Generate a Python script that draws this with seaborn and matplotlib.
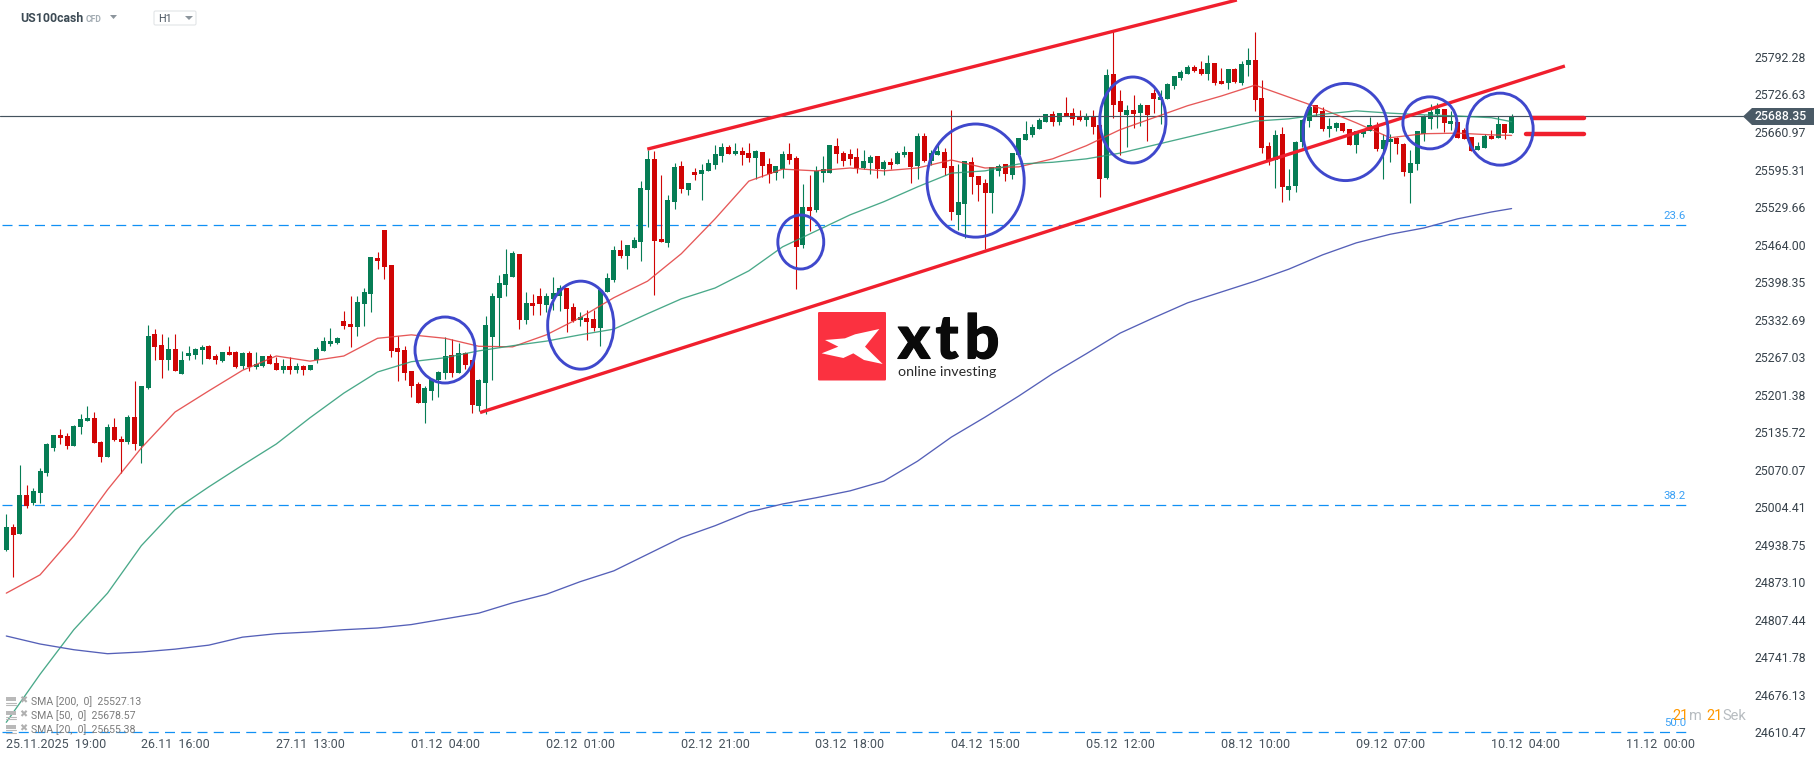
import matplotlib
matplotlib.use("Agg")
import matplotlib.pyplot as plt
import matplotlib.patheffects as pe
from matplotlib.patches import Ellipse, FancyBboxPatch, Polygon, Rectangle
import numpy as np
import pandas as pd
import seaborn as sns

opens = [24930,24970,24958,25026,25012,25029,25064,25108,25131,25129,
         25112,25145,25155,25161,25119,25092,25145,25124,25119,25162,
         25112,25213,25307,25288,25262,25281,25237,25269,25271,25279,
         25286,25269,25260,25276,25276,25251,25274,25250,25251,25269,
         25257,25244,25251,25244,25251,25244,25262,25278,25290,25292,
         25330,25325,25320,25360,25377,25440,25489,25428,25283,25279,
         25243,25220,25187,25208,25227,25239,25271,25239,25274,25262,
         25182,25222,25302,25371,25393,25407,25448,25332,25362,25374,
         25358,25369,25374,25388,25355,25332,25336,25334,25318,25381,
         25402,25455,25444,25458,25469,25560,25614,25474,25467,25539,
         25602,25560,25591,25588,25593,25603,25619,25635,25623,25628,
         25624,25616,25626,25605,25589,25596,25623,25616,25463,25530,
         25524,25589,25589,25637,25624,25623,25617,25598,25607,25619,
         25596,25609,25605,25621,25626,25602,25654,25610,25621,25626,
         25602,25516,25535,25609,25584,25572,25554,25593,25605,25586,
         25621,25647,25656,25666,25679,25693,25679,25694,25694,25687,
         25682,25687,25673,25581,25763,25715,25691,25700,25694,25708,
         25729,25717,25719,25741,25755,25763,25775,25771,25763,25782,
         25750,25747,25771,25747,25778,25787,25721,25637,25612,25658,
         25560,25567,25644,25680,25708,25698,25666,25668,25677,25666,
         25638,25658,25663,25672,25631,25644,25650,25640,25589,25605,
         25658,25684,25693,25701,25675,25679,25664,25652,25630,25633,
         25654,25650,25675,25659]
highs = [24992,24975,25078,25043,25038,25073,25117,25131,25141,25134,
         25148,25168,25182,25171,25120,25150,25161,25129,25166,25225,
         25216,25323,25316,25307,25302,25307,25278,25286,25283,25288,
         25288,25272,25276,25286,25278,25276,25278,25276,25269,25272,
         25267,25264,25267,25257,25253,25253,25285,25302,25318,25302,
         25348,25374,25374,25388,25442,25451,25489,25428,25304,25286,
         25243,25224,25216,25229,25243,25302,25299,25292,25276,25262,
         25229,25339,25379,25411,25456,25453,25448,25381,25377,25388,
         25379,25407,25393,25388,25362,25346,25350,25350,25385,25414,
         25462,25472,25463,25477,25575,25630,25628,25586,25551,25607,
         25610,25572,25598,25605,25614,25638,25642,25638,25642,25635,
         25642,25630,25626,25616,25602,25628,25642,25619,25570,25586,
         25602,25619,25638,25650,25628,25631,25633,25630,25621,25619,
         25612,25616,25628,25636,25626,25659,25659,25630,25642,25633,
         25700,25605,25610,25617,25584,25579,25600,25605,25605,25624,
         25650,25680,25675,25686,25693,25698,25694,25722,25703,25700,
         25694,25700,25673,25771,25840,25735,25708,25726,25712,25708,
         25736,25735,25747,25759,25769,25778,25778,25785,25796,25782,
         25773,25771,25773,25785,25808,25836,25752,25644,25665,25670,
         25596,25645,25684,25705,25708,25705,25686,25679,25677,25666,
         25663,25666,25687,25679,25658,25658,25652,25642,25630,25663,
         25691,25710,25712,25701,25698,25679,25668,25652,25644,25658,
         25664,25689,25675,25692]
lows = [24928,24882,24958,25003,25008,25012,25059,25103,25115,25106,
        25112,25133,25155,25117,25084,25092,25120,25064,25115,25104,
        25082,25211,25262,25230,25244,25243,25237,25262,25264,25255,
        25264,25255,25258,25271,25248,25246,25243,25246,25250,25255,
        25244,25239,25237,25239,25236,25244,25257,25278,25286,25290,
        25316,25285,25304,25321,25346,25421,25404,25267,25225,25227,
        25197,25187,25152,25192,25197,25229,25232,25239,25246,25169,
        25173,25168,25227,25285,25374,25407,25316,25325,25341,25341,
        25346,25350,25348,25311,25329,25321,25297,25313,25286,25381,
        25399,25440,25421,25458,25435,25495,25376,25469,25460,25526,
        25554,25551,25577,25542,25593,25596,25609,25623,25621,25603,
        25609,25579,25582,25572,25577,25581,25605,25386,25458,25488,
        25521,25574,25589,25607,25602,25603,25589,25596,25588,25581,
        25586,25596,25605,25617,25572,25579,25609,25603,25621,25586,
        25507,25489,25476,25553,25540,25456,25519,25584,25575,25579,
        25621,25647,25652,25666,25679,25672,25673,25689,25673,25680,
        25672,25658,25547,25579,25686,25621,25635,25668,25672,25645,
        25694,25675,25719,25736,25752,25763,25766,25761,25752,25743,
        25745,25736,25747,25743,25759,25698,25624,25603,25563,25539,
        25542,25556,25635,25670,25689,25663,25652,25663,25661,25638,
        25624,25652,25663,25628,25579,25609,25623,25584,25537,25595,
        25645,25666,25668,25661,25664,25650,25649,25628,25630,25633,
        25649,25650,25649,25659]
closes = [24970,24956,25026,25007,25033,25068,25115,25131,25126,25112,
          25147,25159,25161,25117,25092,25145,25122,25119,25162,25115,
          25216,25304,25285,25262,25281,25243,25262,25274,25281,25285,
          25264,25262,25276,25271,25250,25274,25250,25255,25269,25255,
          25244,25251,25244,25251,25244,25253,25281,25295,25295,25300,
          25321,25320,25363,25381,25442,25435,25425,25278,25276,25239,
          25216,25187,25213,25229,25241,25269,25239,25274,25253,25183,
          25227,25323,25374,25397,25413,25449,25332,25362,25357,25360,
          25374,25379,25388,25351,25330,25337,25329,25318,25385,25406,
          25455,25444,25463,25472,25563,25614,25470,25469,25542,25600,
          25561,25572,25586,25595,25607,25623,25635,25623,25628,25621,
          25616,25628,25602,25588,25602,25623,25612,25460,25530,25523,
          25593,25596,25638,25623,25610,25614,25598,25610,25617,25596,
          25609,25603,25624,25626,25600,25654,25610,25624,25628,25598,
          25521,25539,25610,25582,25568,25554,25600,25602,25588,25624,
          25650,25658,25670,25682,25693,25679,25694,25689,25684,25682,
          25687,25670,25579,25761,25708,25696,25700,25693,25708,25691,
          25719,25722,25745,25759,25766,25775,25768,25763,25782,25747,
          25745,25771,25749,25780,25787,25717,25633,25612,25656,25565,
          25567,25644,25682,25705,25694,25666,25672,25677,25663,25638,
          25663,25663,25673,25631,25647,25649,25640,25591,25607,25663,
          25689,25696,25701,25677,25680,25650,25649,25628,25637,25654,
          25649,25675,25659,25688]

# moving averages, read every 5th bar
sma_bars = list(range(0, 221, 5)) + [223]
sma20 = [24854,24886,24954,25035,25108,25171,25208,25244,25269,25260,
         25269,25300,25306,25300,25286,25285,25306,25336,25371,25400,
         25448,25509,25575,25596,25593,25598,25593,25598,25612,25598,
         25600,25614,25637,25665,25686,25707,25724,25743,25722,25701,
         25677,25651,25658,25659,25656,25655]
sma50 = [24628,24712,24790,24854,24937,25000,25040,25078,25115,25161,
         25204,25241,25259,25266,25278,25287,25295,25306,25316,25343,
         25369,25388,25418,25460,25488,25516,25539,25565,25589,25593,
         25605,25608,25614,25624,25638,25652,25666,25680,25684,25692,
         25698,25694,25691,25689,25686,25679]
sma200 = [24779,24765,24755,24748,24751,24756,24763,24777,24783,24786,
          24790,24793,24799,24809,24819,24837,24852,24874,24893,24922,
          24951,24972,24996,25010,25021,25033,25050,25085,25127,25162,
          25199,25238,25273,25309,25336,25362,25381,25400,25421,25446,
          25467,25482,25493,25509,25521,25527]

price_ticks = [25792.28,25726.63,25660.97,25595.31,25529.66,25464.00,25398.35,
               25332.69,25267.03,25201.38,25135.72,25070.07,25004.41,24938.75,
               24873.10,24807.44,24741.78,24676.13,24610.47]
time_bars = [0,25,45,65,85,105,125,145,165,185,205,225,245]
time_labels = ["25.11.2025  19:00","26.11  16:00","27.11  13:00","01.12  04:00",
               "02.12  01:00","02.12  21:00","03.12  18:00","04.12  15:00",
               "05.12  12:00","08.12  10:00","09.12  07:00","10.12  04:00",
               "11.12  00:00"]
last_price = 25688.35
fib_levels = [25498, 25008, 24611]
fib_names = ["23.6", "38.2", "50.0"]

# drawn annotations: (bar, price, bars wide, price tall)
circles = [(65.0,25279.5,8.9,115.5),(85.1,25323,9.8,154),(117.7,25468.5,6.8,94.5),
           (143.6,25576,14.4,198),(166.9,25682,9.8,150.5),(198.4,25661,12.6,170),
           (210.9,25677,8,91),(221.3,25666,9.8,126)]
channel_upper = ([94.96,182.3],[25631,25892])
channel_lower = ([70.18,230.9],[25170,25776.5])
stub_lines = [([226.1,233.7],[25685,25685]),([225.2,233.7],[25657,25657])]

GREEN = "#067d55"
RED = "#d00505"
SLATE = "#44535e"
FIB = "#1090f5"

sns.set_style("white")
plt.rcParams["font.family"] = ["Roboto", "DejaVu Sans"]

W, H = 1815, 761
fig = plt.figure(figsize=(W/100, H/100), dpi=100, facecolor="white")
ax = fig.add_axes([0, 1-736/H, 1735/W, 736/H])
ax.set_xlim(-0.933, 256.1)
ax.set_ylim(24604, 25892)
sns.despine(ax=ax, left=True, bottom=True, right=True, top=True)

candles = pd.DataFrame({"open": opens, "high": highs, "low": lows, "close": closes})
candles["bar"] = np.arange(len(candles))
candles["colour"] = np.where(candles["close"] >= candles["open"], GREEN, RED)

ax.vlines(candles["bar"], candles["low"], candles["high"], colors=candles["colour"], lw=0.8, zorder=2)
ax.bar(candles["bar"], (candles["close"]-candles["open"]).abs(),
       bottom=candles[["open", "close"]].min(axis=1), width=0.74,
       color=candles["colour"], linewidth=0, zorder=3)

# fibonacci levels + last price
for level, name in zip(fib_levels, fib_names):
    ax.plot([-0.64, 249.7], [level, level], color=FIB, lw=0.9, dashes=(8, 5), zorder=1)
    ax.text(247.2, level+16, name, color="#3aa0f5", fontsize=8.2, ha="center", va="center", zorder=6)
ax.plot([-0.933, 257.4], [last_price, last_price], color=SLATE, lw=0.85, clip_on=False, zorder=4)

ma = pd.DataFrame({"bar": sma_bars, "sma20": sma20, "sma50": sma50, "sma200": sma200})
sns.lineplot(data=ma, x="bar", y="sma20", ax=ax, color="#e23b3b", lw=0.95, alpha=0.85, zorder=5)
sns.lineplot(data=ma, x="bar", y="sma50", ax=ax, color="#2a9a75", lw=0.95, alpha=0.85, zorder=5)
sns.lineplot(data=ma, x="bar", y="sma200", ax=ax, color="#5560b8", lw=0.95, zorder=5)

for xs, ys in (channel_upper, channel_lower):
    ax.plot(xs, ys, color="#f01f2d", lw=2.4, solid_capstyle="butt", zorder=7)
for xs, ys in stub_lines:
    ax.plot(xs, ys, color="#f01f2d", lw=3.2, solid_capstyle="round", zorder=7)
for bar, price, w, h in circles:
    ax.add_patch(Ellipse((bar, price), w, h, fill=False, edgecolor="#3f48cc", lw=2.1, zorder=8))

ax.yaxis.tick_right()
ax.set_yticks(price_ticks, [f"{p:.2f}" for p in price_ticks])
ax.set_xticks(time_bars, time_labels)
ax.tick_params(axis="y", length=0, pad=14.4, labelsize=8.8, labelcolor="#37424b")
ax.tick_params(axis="x", length=0, pad=1.5, labelsize=9, labelcolor="#47525c")
ax.get_xticklabels()[0].set_ha("left")
ax.set_xlabel("")
ax.set_ylabel("")
ax.patch.set_alpha(0)

# overlay in pixels: header, legend, timer, price tag, logo
ov = fig.add_axes([0, 0, 1, 1], facecolor="none")
ov.set_xlim(0, W)
ov.set_ylim(H, 0)
ov.axis("off")

ov.text(20, 18, "US100cash", fontsize=8.8, fontweight="bold", color="#3c4a54", va="center")
ov.text(86, 19, "CFD", fontsize=6.2, fontweight="bold", color="#a3acb3", va="center")
ov.add_patch(Polygon([(110,15),(117,15),(113.5,19)], color="#8c959c", lw=0))
ov.add_patch(FancyBboxPatch((154,11), 42, 14, boxstyle="round,pad=0,rounding_size=1.5",
                            fc="white", ec="#e2e5e7", lw=0.8))
ov.text(158, 19, "H1", fontsize=7.8, color="#4a5560", va="center")
ov.add_patch(Polygon([(185,16),(193,16),(189,20)], color="#8c959c", lw=0))

legend_rows = ["SMA [200,  0]  25527.13", "SMA [50,  0]  25678.57", "SMA [20,  0]  25655.38"]
for y, row in zip([701.5, 715.5, 729], legend_rows):
    ov.add_patch(Rectangle((6, y-4.5), 10, 4, color="#b9b9b9", lw=0))
    ov.plot([6, 16], [y+1, y+1], color="#b9b9b9", lw=0.8)
    ov.plot([6, 16], [y+3.5, y+3.5], color="#b9b9b9", lw=0.8)
    ov.text(23.5, y-1, "\u2716", fontsize=7, color="#b0b0b0", ha="center", va="center", family="DejaVu Sans")
    ov.text(31, y+0.5, row, fontsize=7.6, color="#7b7b7b", va="center", zorder=3)

ov.text(1672.5, 716, "21", fontsize=10.5, color="#ff9800", va="center")
ov.text(1689.5, 716, "m", fontsize=10.5, color="#b7bcc0", va="center")
ov.text(1706, 716, "21", fontsize=10.5, color="#ff9800", va="center")
ov.text(1722.5, 716, "Sek", fontsize=10.5, color="#b7bcc0", va="center")

ov.add_patch(Polygon([(1743,116.5),(1752,108),(1815,108),(1815,125),(1752,125)], color="#4a5a66", lw=0))
ov.text(1755, 116.8, "25688.35", fontsize=8.8, color="white", va="center", fontweight="medium")

ov.add_patch(FancyBboxPatch((818,312), 68, 68.5, boxstyle="round,pad=0,rounding_size=1.2", fc="#fb3140", ec="none"))
mark = [(105,150),(165,145),(195,133),(268,117),(225,170),(278,222),(222,210),(190,190),(160,204),(95,190),(145,170)]
ov.add_patch(Polygon([(790+a/3, 290+b/3) for a, b in mark], color="white", lw=0))
for letter, x in zip("xtb", [914, 947, 982]):
    ov.text(x, 358.5, letter, fontsize=44, fontweight="black", family="Lato", color="#0a0a0a",
            ha="center", va="baseline", path_effects=[pe.withStroke(linewidth=0.8, foreground="#0a0a0a")])
ov.text(898, 372, "online investing", fontsize=10.3, family="Lato", color="#2a2a2a", va="center")

fig.savefig("out.png", dpi=100)
